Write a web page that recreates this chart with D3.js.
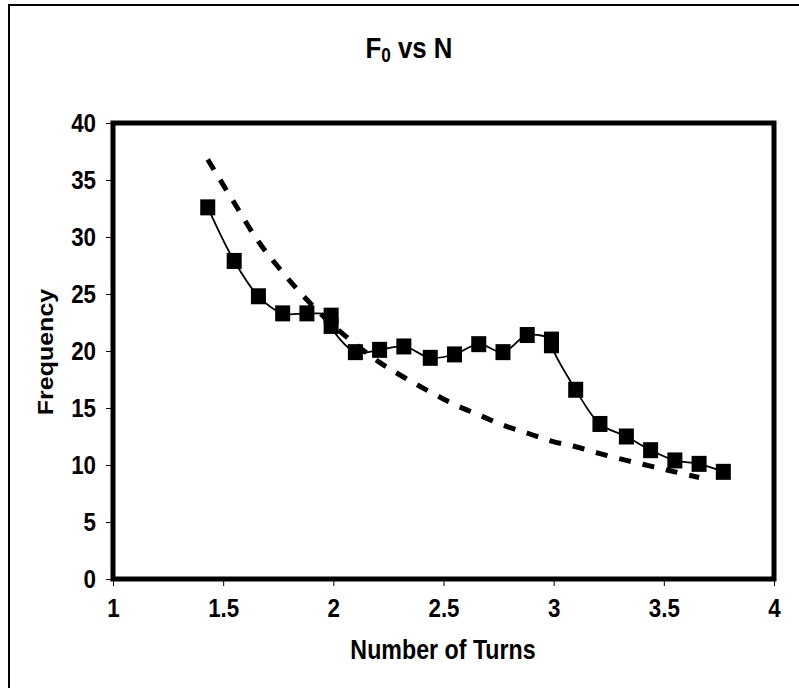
<!DOCTYPE html>
<html>
<head>
<meta charset="utf-8">
<script src="https://cdn.jsdelivr.net/npm/d3@7"></script>
<style>
  body { margin: 0; background: #fff; }
  text { font-family: "Liberation Sans", Arial, sans-serif; font-weight: bold; fill: #000; }
</style>
</head>
<body>
<div id="chart"></div>
<script>
// measured points (number of turns vs frequency)
const turns = [1.43, 1.55, 1.66, 1.77, 1.88, 1.99, 1.99, 2.10, 2.21, 2.32, 2.44, 2.55,
               2.66, 2.77, 2.88, 2.99, 2.99, 3.10, 3.21, 3.33, 3.44, 3.55, 3.66, 3.77];
const measured = [32.6, 27.9, 24.8, 23.3, 23.3, 23.1, 22.2, 19.9, 20.1, 20.4, 19.4, 19.7,
                  20.6, 19.9, 21.4, 21.0, 20.5, 16.6, 13.6, 12.5, 11.3, 10.4, 10.1, 9.4];

// dashed curve
const theoryTurns = [1.43, 1.55, 1.66, 1.77, 1.88, 1.99, 2.10, 2.21, 2.32, 2.44, 2.55,
                     2.66, 2.77, 2.88, 2.99, 3.10, 3.21, 3.33, 3.44, 3.55, 3.66];
const theory = [36.8, 33.0, 29.6, 26.9, 24.5, 22.4, 20.6, 19.0, 17.7, 16.4, 15.3,
                14.4, 13.5, 12.8, 12.1, 11.6, 11.0, 10.4, 9.9, 9.4, 8.9];

const xTicks = [1, 1.5, 2, 2.5, 3, 3.5, 4];
const yTicks = [0, 5, 10, 15, 20, 25, 30, 35, 40];

const width = 799;
const height = 688;
const margin = {top: 123, left: 113, bottom: 109, right: 25};
const squeeze = 0.86; // the scan is stretched vertically, so text is narrow

const meas = turns.map((t, i) => ({x: t, y: measured[i]}));
const theo = theoryTurns.map((t, i) => ({x: t, y: theory[i]}));

const x = d3.scaleLinear()
    .domain([1, 4])
    .range([margin.left, width - margin.right]);

const y = d3.scaleLinear()
    .domain([0, 40])
    .range([height - margin.bottom, margin.top]);

const svg = d3.select('#chart').append('svg')
    .attr('width', width)
    .attr('height', height);

// outer chart-area border (runs off the right/bottom of the picture)
svg.append('rect')
    .attr('x', 9).attr('y', 5)
    .attr('width', 820).attr('height', 720)
    .attr('fill', 'none')
    .attr('stroke', '#000')
    .attr('stroke-width', 2);

svg.append('g')
    .attr('transform', `translate(0, ${height - margin.bottom})`)
    .call(d3.axisBottom(x).tickValues(xTicks).tickSize(7).tickPadding(13).tickFormat(d => d))
    .call(g => g.select('.domain').remove())
    .call(g => g.selectAll('text')
        .style('font-size', '26px')
        .attr('transform', `scale(${squeeze},1)`));

svg.append('g')
    .attr('transform', `translate(${margin.left}, 0)`)
    .call(d3.axisLeft(y).tickValues(yTicks).tickSize(7))
    .call(g => g.select('.domain').remove())
    .call(g => g.selectAll('text')
        .style('font-size', '26px')
        .attr('x', -17 / squeeze)
        .attr('transform', `scale(${squeeze},1)`));

const line = d3.line()
    .x(d => x(d.x))
    .y(d => y(d.y))
    .curve(d3.curveCatmullRom);

svg.append('path')
    .datum(theo)
    .attr('d', line)
    .attr('fill', 'none')
    .attr('stroke', '#000')
    .attr('stroke-width', 5)
    .attr('stroke-dasharray', '12,12');

svg.append('path')
    .datum(meas)
    .attr('d', line)
    .attr('fill', 'none')
    .attr('stroke', '#000')
    .attr('stroke-width', 1.8);

svg.append('g')
    .selectAll('rect').data(meas).enter().append('rect')
    .attr('x', d => x(d.x) - 7.5)
    .attr('y', d => y(d.y) - 8)
    .attr('width', 15)
    .attr('height', 16)
    .attr('fill', '#000');

// plot frame
svg.append('rect')
    .attr('x', margin.left)
    .attr('y', margin.top)
    .attr('width', width - margin.left - margin.right)
    .attr('height', height - margin.top - margin.bottom)
    .attr('fill', 'none')
    .attr('stroke', '#000')
    .attr('stroke-width', 5);

// titles
const title = svg.append('text')
    .attr('transform', `translate(409, 58) scale(${squeeze},1)`)
    .attr('text-anchor', 'middle')
    .style('font-size', '30px');
title.append('tspan').text('F');
title.append('tspan').text('0').style('font-size', '20px').attr('dy', 4);
title.append('tspan').text(' vs N').attr('dy', -4);

svg.append('text')
    .attr('transform', `translate(443, 659) scale(${squeeze},1)`)
    .attr('text-anchor', 'middle')
    .style('font-size', '27px')
    .text('Number of Turns');

svg.append('text')
    .attr('transform', `translate(53, 352) rotate(-90) scale(1,${squeeze})`)
    .attr('text-anchor', 'middle')
    .style('font-size', '25px')
    .text('Frequency');
</script>
</body>
</html>
